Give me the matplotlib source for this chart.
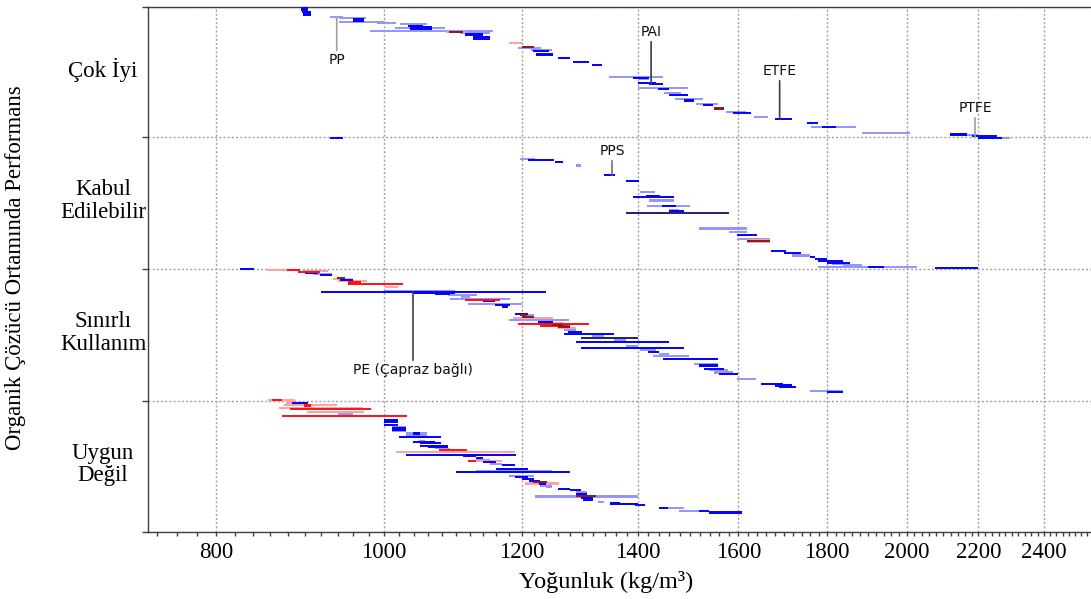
import matplotlib.pyplot as plt
from matplotlib.ticker import NullFormatter

plt.rcParams['font.family'] = ['Liberation Serif', 'DejaVu Serif']

# Performans sınıfları (yukarıdan aşağıya) ve bant sınırları (sıra değeri)
kategoriler = ['Çok İyi', 'Kabul\nEdilebilir', 'Sınırlı\nKullanım', 'Uygun\nDeğil']
bant_sinirlari = [0, 130, 262, 394, 525]

x_etiketleri = [800, 1000, 1200, 1400, 1600, 1800, 2000, 2200, 2400]

# (yoğunluk alt, yoğunluk üst, sıra, grup)
cok_iyi = [
    (895, 904, 1, 'b'), (895, 904, 3, 'b'), (897, 907, 5, 'b'), (898, 908, 7, 'b'),
    (898, 908, 8, 'b'), (931, 947, 10, 'lb'), (942, 976, 11, 'lb'), (960, 973, 12, 'b'),
    (960, 973, 14, 'b'), (942, 1001, 15, 'lb'), (990, 1016, 16, 'lb'), (1021, 1058, 17, 'lb'),
    (1032, 1053, 19, 'b'), (1015, 1084, 21, 'lb'), (1035, 1066, 20, 'b'), (1035, 1066, 22, 'b'),
    (981, 1155, 24, 'lb'), (1085, 1115, 25, 'lr'), (1090, 1110, 25, 'dr'), (1106, 1151, 26, 'lb'),
    (1113, 1140, 27, 'b'), (1113, 1140, 28, 'b'), (1125, 1151, 30, 'b'), (1125, 1151, 32, 'b'),
    (1180, 1200, 36, 'lr'), (1200, 1220, 40, 'dr'), (1195, 1231, 41, 'lb'), (1215, 1250, 43, 'lb'),
    (1218, 1244, 44, 'b'), (1223, 1251, 47, 'b'), (1223, 1251, 48, 'b'), (1259, 1279, 51, 'b'),
    (1285, 1313, 55, 'b'), (1317, 1335, 58, 'b'), (1347, 1448, 70, 'lb'), (1391, 1421, 71, 'b'),
    (1401, 1421, 72, 'lb'), (1401, 1435, 76, 'b'), (1421, 1448, 77, 'b'), (1401, 1497, 81, 'lb'),
    (1438, 1460, 82, 'b'), (1450, 1482, 86, 'lb'), (1460, 1497, 88, 'b'), (1471, 1527, 92, 'lb'),
    (1489, 1508, 93, 'b'), (1489, 1508, 94, 'b'), (1512, 1558, 97, 'lb'), (1527, 1546, 98, 'b'),
    (1548, 1569, 101, 'dr'), (1548, 1569, 102, 'dr'), (1573, 1617, 105, 'lb'), (1589, 1628, 106, 'b'),
    (1633, 1664, 110, 'lb'), (1679, 1718, 112, 'b'), (1752, 1779, 116, 'b'), (1761, 1870, 120, 'lb'),
    (1788, 1820, 120, 'b'), (1885, 2009, 126, 'lb'), (2118, 2166, 127, 'b'), (2118, 2166, 128, 'b'),
    (2166, 2200, 128, 'lb'), (2180, 2255, 129, 'b'), (2200, 2295, 131, 'lb'), (2200, 2270, 131, 'b'),
]

kabul = [
    (931, 947, 131, 'b'), (1198, 1222, 152, 'lb'), (1210, 1252, 153, 'b'), (1255, 1267, 155, 'b'),
    (1289, 1299, 158, 'lb'), (1289, 1299, 159, 'lb'), (1339, 1359, 168, 'b'), (1378, 1402, 174, 'b'),
    (1404, 1433, 185, 'lb'), (1415, 1442, 189, 'b'), (1391, 1469, 190, 'b'), (1421, 1469, 193, 'lb'),
    (1421, 1469, 194, 'lb'), (1417, 1500, 199, 'lb'), (1446, 1472, 199, 'b'), (1460, 1478, 203, 'lb'),
    (1459, 1489, 204, 'b'), (1378, 1580, 206, 'k'), (1518, 1619, 221, 'lb'), (1518, 1619, 222, 'lb'),
    (1580, 1619, 225, 'lb'), (1598, 1639, 228, 'b'), (1598, 1668, 232, 'lb'), (1619, 1668, 233, 'lr'),
    (1619, 1668, 235, 'lr'), (1619, 1668, 234, 'dr'), (1670, 1705, 244, 'b'), (1699, 1739, 246, 'b'),
    (1718, 1759, 248, 'lb'), (1718, 1759, 249, 'lb'), (1759, 1771, 250, 'b'), (1771, 1800, 252, 'b'),
    (1779, 1838, 254, 'b'), (1800, 1856, 256, 'b'), (1812, 1856, 257, 'lb'), (1838, 1885, 258, 'lb'),
    (1779, 2027, 260, 'lb'), (1899, 1940, 260, 'b'), (2077, 2200, 261, 'b'),
]

sinirli = [
    (826, 841, 262, 'b'), (856, 892, 263, 'lr'), (879, 894, 263, 'r'), (898, 928, 264, 'lr'),
    (892, 918, 265, 'r'), (900, 916, 266, 'b'), (910, 933, 267, 'lb'), (918, 933, 268, 'b'),
    (939, 949, 271, 'dr'), (934, 960, 272, 'lr'), (943, 960, 273, 'b'), (941, 977, 274, 'lr'),
    (953, 970, 275, 'r'), (953, 970, 276, 'r'), (953, 1025, 277, 'r'), (1001, 1019, 280, 'lr'),
    (1001, 1098, 284, 'lb'), (920, 1239, 285, 'b'), (1039, 1098, 286, 'b'), (1070, 1091, 287, 'b'),
    (1088, 1131, 288, 'lb'), (1108, 1121, 290, 'lb'), (1091, 1182, 292, 'lb'), (1113, 1166, 293, 'r'),
    (1140, 1158, 294, 'b'), (1117, 1201, 297, 'lb'), (1158, 1182, 298, 'b'), (1169, 1179, 300, 'b'),
    (1190, 1210, 307, 'b'), (1201, 1220, 308, 'lb'), (1198, 1209, 308, 'dr'), (1201, 1220, 310, 'dr'),
    (1187, 1251, 311, 'lr'), (1180, 1278, 313, 'lb'), (1226, 1251, 315, 'b'), (1226, 1251, 316, 'b'),
    (1229, 1267, 316, 'lr'), (1194, 1312, 317, 'r'), (1237, 1276, 318, 'r'), (1249, 1268, 318, 'dr'),
    (1230, 1279, 319, 'r'), (1257, 1289, 321, 'lr'), (1260, 1279, 320, 'dr'), (1269, 1289, 323, 'lb'),
    (1276, 1300, 325, 'b'), (1269, 1357, 327, 'b'), (1318, 1339, 329, 'lb'), (1299, 1401, 331, 'k'),
    (1357, 1378, 332, 'lb'), (1357, 1378, 334, 'lb'), (1289, 1460, 335, 'b'), (1378, 1401, 339, 'lb'),
    (1299, 1488, 341, 'b'), (1405, 1434, 343, 'lb'), (1419, 1440, 345, 'b'), (1440, 1460, 347, 'lb'),
    (1429, 1499, 349, 'lb'), (1448, 1558, 352, 'b'), (1509, 1558, 357, 'lb'), (1519, 1558, 358, 'b'),
    (1519, 1558, 359, 'b'), (1528, 1569, 362, 'b'), (1539, 1579, 363, 'lb'), (1548, 1589, 365, 'lb'),
    (1548, 1589, 366, 'lb'), (1560, 1600, 367, 'b'), (1598, 1638, 372, 'lb'), (1648, 1697, 377, 'b'),
    (1679, 1718, 378, 'b'), (1679, 1718, 379, 'b'), (1688, 1728, 380, 'b'), (1759, 1839, 384, 'lb'),
    (1799, 1839, 385, 'b'),
]

uygun = [
    (857, 888, 393, 'lr'), (862, 873, 393, 'r'), (878, 888, 395, 'lr'), (878, 888, 396, 'lr'),
    (885, 904, 396, 'b'), (875, 939, 398, 'lr'), (899, 908, 398, 'r'), (899, 908, 399, 'r'),
    (870, 972, 401, 'lr'), (882, 983, 402, 'r'), (903, 973, 405, 'lr'), (941, 959, 407, 'lb'),
    (873, 1031, 409, 'r'), (1000, 1019, 413, 'b'), (1000, 1019, 414, 'b'), (1000, 1019, 415, 'b'),
    (1000, 1019, 418, 'b'), (1010, 1030, 420, 'lb'), (1010, 1030, 421, 'b'), (1010, 1030, 422, 'b'),
    (1010, 1030, 423, 'b'), (1010, 1030, 424, 'lb'), (1030, 1059, 426, 'lb'), (1039, 1049, 426, 'b'),
    (1039, 1049, 427, 'b'), (1029, 1059, 428, 'lb'), (1020, 1079, 430, 'b'), (1047, 1056, 434, 'lb'),
    (1039, 1070, 435, 'b'), (1049, 1079, 436, 'b'), (1049, 1089, 439, 'b'), (1060, 1089, 440, 'b'),
    (1070, 1089, 441, 'lb'), (1079, 1091, 442, 'lb'), (1076, 1116, 443, 'r'), (1016, 1190, 445, 'lr'),
    (1029, 1191, 448, 'b'), (1110, 1130, 449, 'b'), (1130, 1140, 451, 'b'), (1130, 1150, 453, 'lb'),
    (1117, 1170, 454, 'lr'), (1117, 1130, 454, 'r'), (1140, 1160, 455, 'b'), (1150, 1169, 457, 'lb'),
    (1169, 1190, 458, 'b'), (1160, 1211, 462, 'b'), (1130, 1250, 464, 'lb'), (1130, 1250, 465, 'lb'),
    (1100, 1279, 465, 'b'), (1180, 1220, 469, 'lb'), (1190, 1211, 470, 'b'), (1201, 1220, 472, 'b'),
    (1212, 1229, 474, 'b'), (1206, 1261, 476, 'lr'), (1206, 1261, 477, 'lr'), (1219, 1241, 475, 'dr'),
    (1228, 1239, 477, 'b'), (1229, 1250, 479, 'lb'), (1239, 1250, 480, 'lb'), (1260, 1279, 482, 'b'),
    (1279, 1299, 483, 'b'), (1289, 1309, 485, 'lb'), (1289, 1309, 487, 'b'), (1221, 1401, 489, 'lb'),
    (1221, 1401, 490, 'lb'), (1289, 1324, 489, 'dr'), (1299, 1319, 491, 'b'), (1302, 1319, 493, 'b'),
    (1328, 1339, 495, 'lb'), (1349, 1368, 496, 'b'), (1349, 1401, 497, 'b'), (1357, 1378, 497, 'b'),
    (1394, 1413, 498, 'b'), (1440, 1457, 501, 'b'), (1457, 1488, 501, 'lb'), (1478, 1538, 504, 'lb'),
    (1519, 1538, 504, 'b'), (1538, 1608, 505, 'b'), (1538, 1608, 506, 'b'),
]

# (etiket, yoğunluk, işaret edilen sıra, yazı sırası, çizgi rengi)
isaretler = [
    ('PP', 939, 10, 53, '#a0a0a0'),
    ('PAI', 1425, 77, 25, '#404040'),
    ('ETFE', 1690, 112, 64, '#404040'),
    ('PTFE', 2190, 130, 101, '#a0a0a0'),
    ('PPS', 1353, 168, 144, '#707070'),
    ('PE (Çapraz bağlı)', 1039, 285, 363, '#404040'),
]

renkler = {'lb': '#9494ff', 'lr': '#ffa0a0', 'b': '#0000ff', 'r': '#ff1010',
           'k': '#20206a', 'dr': '#8b1a1a'}
cizim_sirasi = ['lb', 'lr', 'b', 'r', 'k', 'dr']

fig = plt.figure(figsize=(10.91, 5.99), dpi=100)
ax = fig.add_axes([148 / 1091, 67 / 599, 947 / 1091, 525 / 599])
ax.set_xscale('log')
ax.set_xlim(731, 2568)
ax.set_ylim(525, 0)

tum = cok_iyi + kabul + sinirli + uygun
for z, grup in enumerate(cizim_sirasi):
    secim = [s for s in tum if s[3] == grup]
    if not secim:
        continue
    ax.hlines([s[2] for s in secim], [s[0] for s in secim], [s[1] for s in secim],
              colors=renkler[grup], linewidth=1.4, zorder=3 + z)

for etiket, x, y0, y1, renk in isaretler:
    ax.annotate(etiket, xy=(x, y0), xytext=(x, y1), ha='center', va='center',
                fontsize=10, family='DejaVu Sans', color='#111111',
                arrowprops=dict(arrowstyle='-', color=renk, lw=1.2,
                                shrinkA=0, shrinkB=0), zorder=10)

# eksenler
ax.set_xticks(x_etiketleri, [str(v) for v in x_etiketleri])
ax.set_xticks(list(range(740, 2561, 20)), minor=True)
ax.xaxis.set_minor_formatter(NullFormatter())
ax.set_yticks(bant_sinirlari, [''] * len(bant_sinirlari))
ax.tick_params(axis='x', which='both', direction='out', length=3, width=1,
               color='#404040', labelsize=16.5, pad=4)
ax.tick_params(axis='y', direction='out', length=4, width=1, color='#404040')
ax.grid(True, which='major', color='#a0a0a0', linestyle=(0, (1.5, 1.5)), linewidth=1)
ax.set_axisbelow(True)
for k in ['left', 'bottom', 'top']:
    ax.spines[k].set_color('#404040')
    ax.spines[k].set_linewidth(1)
ax.spines['right'].set_visible(False)

for i, ad in enumerate(kategoriler):
    orta = (bant_sinirlari[i] + bant_sinirlari[i + 1]) / 2 - 2
    ax.text(-45 / 947, orta, ad, transform=ax.get_yaxis_transform(), ha='center',
            va='center', multialignment='center', fontsize=16.5, linespacing=1.12)

fig.text(606 / 1091, 1 - 582 / 599, 'Yoğunluk (kg/m³)', ha='center', va='center', fontsize=17.5)
fig.text(16 / 1091, 1 - 268 / 599, 'Organik Çözücü Ortamında Performans', rotation=90,
         ha='center', va='center', fontsize=16.5)

fig.savefig('out.png', dpi=100)
